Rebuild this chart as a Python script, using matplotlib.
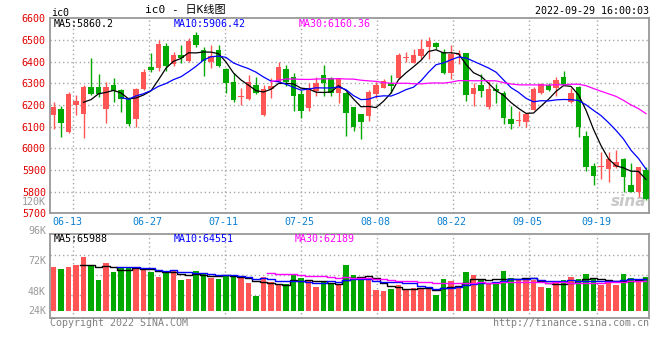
import numpy as np
import matplotlib
matplotlib.use('Agg')
import matplotlib.pyplot as plt
import pandas as pd

# daily candles, ic0, 2022-06-08 .. end (80 sessions)
opens = [6155, 6181, 6077, 6201, 6160, 6283, 6283, 6181, 6292, 6269,
         6226, 6134, 6272, 6377, 6372, 6472, 6390, 6431, 6403, 6523,
         6454, 6400, 6454, 6366, 6307, 6239, 6227, 6292, 6155, 6272,
         6307, 6366, 6330, 6251, 6185, 6264, 6338, 6323, 6254, 6254,
         6189, 6158, 6149, 6251, 6280, 6300, 6323, 6416, 6396, 6426,
         6469, 6485, 6443, 6349, 6432, 6441, 6251, 6292, 6192, 6274,
         6254, 6135, 6128, 6120, 6177, 6257, 6292, 6277, 6330, 6212,
         6284, 6057, 5918, 5913, 5903, 5912, 5949, 5831, 5800, 5900]
highs = [6215, 6195, 6260, 6246, 6292, 6416, 6341, 6307, 6326, 6272,
         6238, 6277, 6366, 6438, 6500, 6487, 6446, 6477, 6508, 6538,
         6469, 6477, 6477, 6372, 6346, 6280, 6338, 6330, 6292, 6323,
         6400, 6384, 6346, 6269, 6300, 6330, 6384, 6330, 6323, 6261,
         6190, 6160, 6269, 6307, 6318, 6338, 6438, 6446, 6460, 6503,
         6515, 6492, 6457, 6477, 6454, 6441, 6300, 6343, 6312, 6297,
         6266, 6197, 6173, 6164, 6284, 6303, 6303, 6330, 6357, 6280,
         6286, 6080, 5931, 5984, 5981, 5992, 5954, 5934, 5914, 5912]
lows = [6088, 6054, 6070, 6154, 6046, 6245, 6238, 6118, 6215, 6169,
        6104, 6100, 6269, 6353, 6358, 6358, 6380, 6394, 6400, 6469,
        6334, 6372, 6377, 6257, 6215, 6200, 6225, 6251, 6150, 6230,
        6305, 6289, 6173, 6141, 6172, 6243, 6243, 6243, 6210, 6057,
        6081, 6043, 6127, 6230, 6278, 6254, 6322, 6400, 6392, 6412,
        6412, 6457, 6343, 6318, 6389, 6220, 6197, 6238, 6181, 6208,
        6112, 6089, 6104, 6100, 6175, 6249, 6266, 6241, 6290, 6210,
        6054, 5897, 5831, 5858, 5846, 5908, 5797, 5797, 5777, 5762]
closes = [6189, 6118, 6251, 6220, 6284, 6251, 6251, 6284, 6266, 6226,
          6114, 6272, 6352, 6363, 6481, 6381, 6431, 6417, 6495, 6477,
          6403, 6427, 6381, 6303, 6223, 6243, 6307, 6254, 6272, 6287,
          6377, 6307, 6243, 6173, 6272, 6300, 6300, 6254, 6318, 6164,
          6100, 6123, 6261, 6292, 6310, 6289, 6431, 6420, 6431, 6458,
          6495, 6469, 6349, 6434, 6436, 6246, 6280, 6266, 6274, 6266,
          6138, 6112, 6132, 6158, 6274, 6297, 6269, 6315, 6292, 6257,
          6100, 5915, 5874, 5917, 5951, 5938, 5869, 5797, 5912, 5766]
volumes = [90200, 86700, 90200, 94300, 110700, 94300, 63600, 98400, 80000, 87500,
           88200, 86700, 83400, 80000, 70300, 82000, 84000, 63600, 66200, 82000,
           77900, 68300, 66200, 73800, 73800, 68300, 58000, 31400, 70300, 60100,
           54700, 54700, 75900, 67000, 61500, 49200, 58800, 55400, 56000, 94300,
           73800, 67000, 63600, 43100, 41000, 45100, 53300, 43100, 47200, 45100,
           45100, 32800, 65600, 61500, 49800, 80000, 73800, 63600, 54700, 58000,
           82000, 68300, 63600, 63600, 63600, 49800, 47800, 56800, 63600, 70300,
           65600, 75900, 65600, 53900, 58000, 53300, 75900, 68300, 61500, 70300]

tick_idx = [3, 13, 23, 33, 43, 53, 63, 72]
tick_labels = ['06-13', '06-27', '07-11', '07-25', '08-08', '08-22', '09-05', '09-19']
price_levels = list(range(5700, 6700, 100))

RED = '#ff5555'
GREEN = '#00a800'
GRID = '#a8a8a8'
FRAME = '#999999'
MONO = ['DejaVu Sans Mono', 'Noto Sans CJK SC']
FS = 7.2

W, H = 660, 360
def fx(px):
    return px / W
def fy(py):
    return 1 - py / H

fig = plt.figure(figsize=(6.6, 3.6), dpi=100)
ax = fig.add_axes([fx(50), fy(213.3), fx(599), 195 / H])
axv = fig.add_axes([fx(50), fy(318), fx(599), 83.7 / H])

o = np.array(opens, float)
h = np.array(highs, float)
l = np.array(lows, float)
c = np.array(closes, float)
v = np.array(volumes, float)
x = np.arange(len(c))
colors = np.where(c >= o, RED, GREEN)

# sina's grid step is a bit wider than the candle step
grid_x = [k * 7.6 / 7.5 - 0.47 for k in tick_idx]

xlim = (-0.47, 79.4)
for a in (ax, axv):
    a.set_xlim(*xlim)
    for gx in grid_x:
        a.axvline(gx, color=GRID, lw=1, ls=(0, (1, 2)), zorder=0)
    for s in a.spines.values():
        s.set_color(FRAME)
        s.set_linewidth(1.3)
    a.set_xticks([])

# price panel
ax.set_ylim(5700, 6600)
for p in price_levels[1:-1]:
    ax.axhline(p, color=GRID, lw=1, ls=(0, (1, 2)), zorder=0)
ax.vlines(x, l, h, colors=colors, lw=1, zorder=2)
body = np.maximum(np.abs(c - o), 3)
ax.bar(x, body, bottom=np.minimum(o, c), width=0.76, color=colors, lw=0, zorder=3)

cs = pd.Series(c)
ax.plot(x, cs.rolling(5).mean(), color='black', lw=0.9, zorder=4)
ax.plot(x, cs.rolling(10).mean(), color='#0000ff', lw=0.9, zorder=4)
ax.plot(x, cs.rolling(30).mean(), color='#ff00ff', lw=0.9, zorder=4)

ax.set_yticks(price_levels)
ax.set_yticklabels([str(p) for p in price_levels], family=MONO, fontsize=FS, color='#e00000')
ax.tick_params(axis='y', length=0, pad=3)

for k, (gx, lab) in enumerate(zip(grid_x, tick_labels)):
    lx = 1.8 if k == 0 else gx - 0.15
    ax.text(lx, -0.045, lab, transform=ax.get_xaxis_transform(), ha='center', va='center',
            family=MONO, fontsize=FS, color='#0a80d0')

fig.text(fx(54), fy(24), 'MA5:5860.2', ha='left', va='center',
         family=MONO, fontsize=FS, color='black')
fig.text(fx(174), fy(24), 'MA10:5906.42', ha='left', va='center',
         family=MONO, fontsize=FS, color='#0000ff')
fig.text(fx(299), fy(24), 'MA30:6160.36', ha='left', va='center',
         family=MONO, fontsize=FS, color='#ff00ff')

# watermark
ax.text(0.995, 0.02, 'sina', transform=ax.transAxes, ha='right', va='bottom',
        fontsize=11, fontweight='bold', style='italic', color='#c8c8c8', zorder=1)

# volume panel
axv.set_ylim(-14350, 157200)
axv.set_yticks([])
for f in (0.269, 0.514, 0.753):
    axv.plot([0, 1], [f, f], transform=axv.transAxes, color=GRID, lw=1, ls=(0, (1, 2)), zorder=0)
axv.bar(x, v, width=0.76, color=colors, lw=0, zorder=2)
vs = pd.Series(v)
axv.plot(x, vs.rolling(5).mean(), color='black', lw=1, drawstyle='steps-mid', zorder=3)
axv.plot(x, vs.rolling(10).mean(), color='#0000ff', lw=1, drawstyle='steps-mid', zorder=3)
axv.plot(x, vs.rolling(30).mean(), color='#ff00ff', lw=1, drawstyle='steps-mid', zorder=3)

fig.text(fx(54), fy(238.5), 'MA5:65988', ha='left', va='center', family=MONO, fontsize=FS, color='black')
fig.text(fx(174), fy(238.5), 'MA10:64551', ha='left', va='center', family=MONO, fontsize=FS, color='#0000ff')
fig.text(fx(295), fy(238.5), 'MA30:62189', ha='left', va='center', family=MONO, fontsize=FS, color='#ff00ff')

for lab, py in [('120K', 202), ('96K', 230.7), ('72K', 260.5), ('48K', 291.7), ('24K', 310.7)]:
    fig.text(fx(46), fy(py), lab, ha='right', va='center', family=MONO, fontsize=FS, color='#999999')

# header and footer
fig.text(fx(51), fy(12.5), 'ic0', ha='left', va='center', family=MONO, fontsize=FS, color='black')
fig.text(fx(185), fy(10), 'ic0 - 日K线图', ha='center', va='center', family=MONO,
         fontsize=8, color='black')
fig.text(fx(649), fy(11.5), '2022-09-29 16:00:03', ha='right', va='center', family=MONO,
         fontsize=FS, color='black')
fig.text(fx(50), fy(323.5), 'Copyright 2022 SINA.COM', ha='left', va='center', family=MONO,
         fontsize=FS, color='#808080')
fig.text(fx(649), fy(323.5), 'http://finance.sina.com.cn', ha='right', va='center', family=MONO,
         fontsize=FS, color='#808080')

fig.savefig('out.png', dpi=100, facecolor='white')
